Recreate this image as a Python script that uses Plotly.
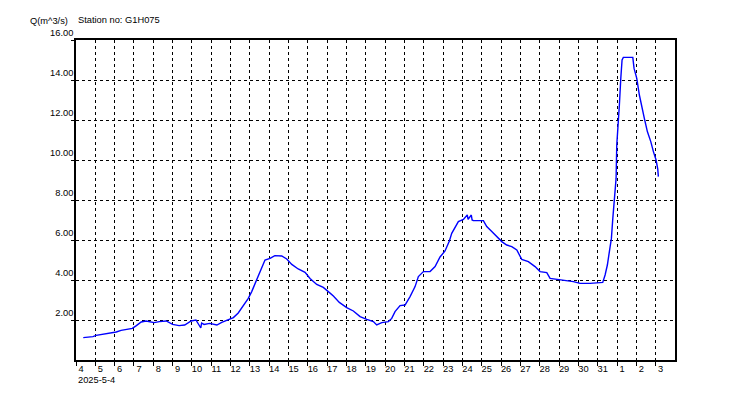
import plotly.graph_objects as go
import pandas as pd

# Discharge readings
times = [
    "2025-05-04 09:00", "2025-05-04 21:00", "2025-05-05 01:00", "2025-05-05 07:00",
    "2025-05-05 15:00", "2025-05-06 02:00", "2025-05-06 08:00", "2025-05-06 14:00",
    "2025-05-06 22:00", "2025-05-07 03:00", "2025-05-07 09:00", "2025-05-07 15:00",
    "2025-05-08 01:00", "2025-05-08 07:30", "2025-05-08 16:00", "2025-05-09 00:00",
    "2025-05-09 08:00", "2025-05-09 15:00", "2025-05-09 23:00", "2025-05-10 05:00",
    "2025-05-10 11:00", "2025-05-10 12:00", "2025-05-10 15:00", "2025-05-10 22:00",
    "2025-05-11 07:00", "2025-05-11 13:00", "2025-05-11 21:00", "2025-05-12 03:30",
    "2025-05-12 09:30", "2025-05-12 16:00", "2025-05-12 22:00", "2025-05-13 02:15",
    "2025-05-13 06:30", "2025-05-13 10:30", "2025-05-13 14:40", "2025-05-13 18:45",
    "2025-05-14 01:00", "2025-05-14 07:00", "2025-05-14 15:30", "2025-05-14 21:45",
    "2025-05-15 04:00", "2025-05-15 12:00", "2025-05-15 20:30", "2025-05-16 02:40",
    "2025-05-16 11:00", "2025-05-16 19:10", "2025-05-17 01:25", "2025-05-17 07:40",
    "2025-05-17 15:05", "2025-05-18 00:15", "2025-05-18 08:30", "2025-05-18 16:50",
    "2025-05-19 01:10", "2025-05-19 09:20", "2025-05-19 13:30", "2025-05-19 19:45",
    "2025-05-20 04:00", "2025-05-20 08:10", "2025-05-20 12:15", "2025-05-20 18:30",
    "2025-05-21 00:40", "2025-05-21 06:55", "2025-05-21 13:10", "2025-05-21 17:15",
    "2025-05-21 23:30", "2025-05-22 07:45", "2025-05-22 14:00", "2025-05-22 20:10",
    "2025-05-23 02:20", "2025-05-23 07:45", "2025-05-23 10:40", "2025-05-23 14:50",
    "2025-05-23 18:55", "2025-05-24 01:10", "2025-05-24 06:00", "2025-05-24 07:00",
    "2025-05-24 11:00", "2025-05-24 12:00", "2025-05-24 13:30", "2025-05-25 02:00",
    "2025-05-25 06:10", "2025-05-25 12:25", "2025-05-25 18:35", "2025-05-26 00:50",
    "2025-05-26 07:00", "2025-05-26 13:15", "2025-05-26 19:30", "2025-05-27 01:40",
    "2025-05-27 09:50", "2025-05-27 18:10", "2025-05-28 00:25", "2025-05-28 08:45",
    "2025-05-28 12:50", "2025-05-28 21:10", "2025-05-29 05:20", "2025-05-29 17:45",
    "2025-05-30 02:05", "2025-05-30 14:30", "2025-05-31 02:55", "2025-05-31 06:15",
    "2025-05-31 09:10", "2025-05-31 12:00", "2025-05-31 14:30", "2025-05-31 17:00",
    "2025-05-31 18:45", "2025-05-31 20:40", "2025-05-31 22:50", "2025-05-31 23:40",
    "2025-06-01 01:20", "2025-06-01 02:55", "2025-06-01 04:40", "2025-06-01 06:15",
    "2025-06-01 07:50", "2025-06-01 19:35", "2025-06-01 21:10", "2025-06-02 00:30",
    "2025-06-02 03:45", "2025-06-02 06:45", "2025-06-02 09:55", "2025-06-02 13:40",
    "2025-06-02 17:55", "2025-06-02 21:10", "2025-06-03 00:30", "2025-06-03 02:35",
    "2025-06-03 03:20",
]
discharge = [
    1.12, 1.17, 1.23, 1.27,
    1.33, 1.40, 1.48, 1.52,
    1.58, 1.72, 1.90, 1.95,
    1.87, 1.92, 1.95, 1.78,
    1.72, 1.75, 1.95, 2.00,
    1.60, 1.85, 1.78, 1.83,
    1.75, 1.88, 2.02, 2.12,
    2.35, 2.70, 3.08, 3.42,
    3.83, 4.25, 4.67, 5.00,
    5.08, 5.22, 5.20, 5.05,
    4.78, 4.55, 4.38, 4.08,
    3.78, 3.63, 3.42, 3.20,
    2.88, 2.62, 2.45, 2.17,
    2.03, 1.92, 1.75, 1.87,
    1.92, 2.08, 2.42, 2.72,
    2.75, 3.17, 3.67, 4.17,
    4.42, 4.42, 4.67, 5.15,
    5.45, 5.95, 6.33, 6.67,
    6.92, 7.03, 7.25, 7.03,
    7.25, 7.00, 6.97, 6.97,
    6.67, 6.42, 6.17, 5.92,
    5.75, 5.67, 5.50, 5.03,
    4.92, 4.67, 4.42, 4.37,
    4.08, 4.03, 3.97, 3.92,
    3.83, 3.83, 3.87, 3.88,
    4.25, 4.75, 5.42, 6.08,
    7.08, 8.08, 9.08, 10.75,
    11.58, 12.75, 14.08, 15.00,
    15.13, 15.13, 14.58, 14.08,
    13.25, 12.75, 12.08, 11.42,
    10.92, 10.42, 10.00, 9.55,
    9.17,
]

y_ticks = [2, 4, 6, 8, 10, 12, 14, 16]
x_range = ["2025-05-04 00:00", "2025-06-04 00:00"]
x_first_tick = "2025-05-04"
x_last_tick = "2025-06-03"
station = "Station no: G1H075"
y_title = "Q(m^3/s)"
start_label = "2025-5-4"

FONT = "Liberation Sans, Arial, sans-serif"
FS = 9.3

x_ticks = pd.date_range(x_first_tick, x_last_tick, freq="D")

fig = go.Figure()
fig.add_trace(go.Scatter(
    x=times, y=discharge, mode="lines",
    line=dict(color="#0000ff", width=1.4),
    showlegend=False, hoverinfo="skip",
))

fig.update_layout(
    width=750, height=400,
    margin=dict(l=68, r=83, t=32, b=48, autoexpand=False),
    paper_bgcolor="white", plot_bgcolor="white",
    font=dict(family=FONT, size=FS, color="black"),
    showlegend=False,
)

fig.update_xaxes(
    type="date", range=x_range,
    tickvals=x_ticks, tickformat="%-d",
    showgrid=True, gridcolor="black", griddash="dot", gridwidth=1,
    showline=True, linecolor="black", linewidth=1.5, mirror=True,
    ticks="outside", ticklen=4, tickcolor="black", tickwidth=1,
    ticklabelshift=5, ticklabelstandoff=-5,
    zeroline=False,
)
fig.update_yaxes(
    range=[0, 16], tickvals=y_ticks, tickformat=".2f",
    showgrid=True, gridcolor="black", griddash="dot", gridwidth=1,
    showline=True, linecolor="black", linewidth=1.5, mirror=True,
    ticks="outside", ticklen=3, tickcolor="black", tickwidth=1,
    ticklabelshift=-7, ticklabelstandoff=-4,
    zeroline=False,
)

fig.add_annotation(text=y_title, xref="paper", yref="paper",
                   x=-0.010, y=1.058, xanchor="right", yanchor="middle",
                   showarrow=False, font=dict(size=FS))
fig.add_annotation(text=station, xref="paper", yref="paper",
                   x=0.0, y=1.0625, xanchor="left", yanchor="middle",
                   showarrow=False, font=dict(size=FS))
fig.add_annotation(text=start_label, xref="paper", yref="paper",
                   x=0.0, y=-0.0625, xanchor="left", yanchor="middle",
                   showarrow=False, font=dict(size=FS))

fig.write_html("out.html")
